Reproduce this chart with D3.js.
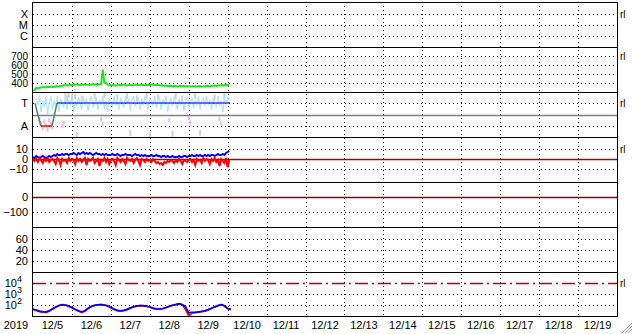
<!DOCTYPE html>
<html>
<head>
<meta charset="utf-8">
<script src="https://cdn.jsdelivr.net/npm/d3@7"></script>
<style>
body { margin: 0; background: #fff; }
text { font-family: "Liberation Sans", Arial, sans-serif; font-size: 11px; fill: #000; }
</style>
</head>
<body>
<svg width="633" height="334"></svg>
<script>
// ---- data ----
var startDate = new Date(2019, 11, 5);
var endDate = new Date(2019, 11, 20);
var yearLabel = "2019";
var dayLabels = ["12/5","12/6","12/7","12/8","12/9","12/10","12/11","12/12","12/13","12/14","12/15","12/16","12/17","12/18","12/19"];

var statusLabels = ["X", "M", "C"];

var p2Ticks = [400, 500, 600, 700];
// hourly from 12/5 00:00
var greenHourly = [315,320,345,340,348,350,352,355,350,358,355,360,357,362,358,365,360,368,370,375,372,378,375,380,
  378,382,380,385,380,378,383,380,386,382,380,378,384,388,382,385,380,387,390,550,405,398,385,378,
  372,375,378,370,376,380,374,378,382,376,372,378,380,375,378,384,380,376,378,382,376,374,378,380,
  378,382,380,376,380,378,375,372,374,370,372,368,370,366,364,368,366,362,365,368,364,366,362,365,
  364,360,362,366,362,360,364,366,362,360,364,368,366,362,366,370,372,368,374,370,376,372,378,374,380,376];

var modeTicks = [1, 0];
var modeLabels = ["T", "A"];
var modeMid = 0.5;
// [hour, value]
var modeGreenA = [[1.2, 1], [4.8, 0]];
var modeRed = [[4.8, 0], [11.7, 0]];
var modeGreenB = [[11.7, 0], [14.8, 1]];
var modeBlue = [[14.8, 1], [121.5, 1]];
// hourly from 12/5 02:00
var cyanHourly = [1.2,0.9,1.3,0.6,1.1,0.8,1.25,0.5,1.0,1.3,0.7,1.1,
  0.9,1.3,0.6,1.2,1.0,0.8,1.3,0.7,1.15,0.95,1.3,0.6,
  1.1,0.85,1.25,1.0,0.7,1.3,0.9,1.2,0.65,1.1,1.3,0.8,
  1.0,1.25,0.7,1.15,0.9,1.3,0.75,1.1,0.6,1.2,1.0,0.85,
  1.3,0.9,1.15,0.7,1.25,1.0,0.8,1.3,0.95,1.2,0.65,1.1,
  1.3,0.85,1.05,1.25,0.7,1.2,0.9,1.3,1.0,0.75,1.2,1.1,
  0.9,1.3,0.8,1.1,1.25,0.7,1.15,0.95,1.3,0.6,1.05,1.2,
  0.85,1.3,1.0,0.7,1.2,0.9,1.25,0.65,1.1,1.3,0.8,1.0,
  1.25,0.75,1.15,0.9,1.3,0.7,1.1,1.2,0.85,1.3,0.95,1.15,
  0.7,1.25,1.0,0.8,1.3,0.9,1.1,0.6,1.2,1.0,1.25,1.1];
var grayPoints = [[20,1.3],[21,1.2],[22,1.35],[24,1.25],[26,1.3],[27,-0.4],[30,1.2],[38,1.3],[44,1.35],[52,1.25],
  [58,1.3],[60,-0.3],[64,1.2],[70,1.3],[72,-0.4],[77,1.25],[86,-0.35],[88,1.3],[92,1.2],[100,1.3],[103,-0.3],[112,1.25],[118,1.3]];
var pinkPoints = [[4,0.3],[5,0.1],[6,-0.1],[7,0.2],[8,0.05],[9,-0.15],[10,0.25],[11,0.1],[12,-0.05],
  [18,0.0],[19,0.15],[42,0.3],[43,0.1],[84,0.25],[96,0.35],[97,0.15],[115,0.3],[116,0.1]];

var p4Ticks = [10, 0, -10];
var blueHourly4 = [2,1,3,2,1,2,3,2,1,2,3,2, 3,4,3,5,4,4,5,4,5,5,4,5,
  5,6,5,4,6,5,6,7,5,6,5,6, 5,4,5,6,5,5,4,5,4,5,4,4,
  4,5,4,4,5,4,3,4,4,5,4,4, 4,3,4,5,4,4,3,4,3,4,3,3,
  3,4,3,3,4,3,3,2,3,3,2,3, 2,2,3,2,2,2,3,2,2,3,3,2,
  3,3,4,3,3,4,3,4,3,3,4,3, 4,3,4,4,3,4,5,4,4,5,4,6, 7,8];
var redHourly4 = [1,-2,0,-3,1,-1,-4,0,-2,1,-3,-1, 0,-2,-5,1,-1,-6,0,-2,-1,-4,1,-2,
  0,-1,-5,1,-2,0,-3,-1,1,-6,0,-2, -1,1,-4,-2,0,-7,-1,-2,1,-3,0,-5,
  -1,0,-2,-6,1,-1,-3,0,-2,-5,1,-1, -2,0,-4,-1,1,-2,-6,0,-1,-3,0,-2,
  -1,-3,0,-2,-4,-3,-5,-4,-6,-3,-4,-2, -3,-1,-2,-4,-1,-3,0,-2,-5,-1,-2,-3,
  -1,0,-3,-1,-6,0,-2,-1,-4,1,-2,0, -1,-5,0,-2,1,-3,-1,-7,0,-2,-4,1, -8,-1];

var p5Ticks = [0, -100];
var p6Ticks = [60, 40, 20];
var p7Ticks = [1e4, 1e3, 1e2];
var p7Limit = 1e4;
// every 2 hours from 12/5 00:00
var blue7 = [43,35,28,25,24,30,45,65,90,107,100,80,60,42,30,24,30,50,75,95,105,108,100,85,
  60,42,33,30,33,40,55,70,82,88,86,80,65,52,44,43,48,60,78,95,110,130,112,70,
  19,22,22,24,26,30,38,50,68,88,110,85,48,40];
var red7 = [40,32,25,22,21,27,42,62,88,105,98,78,57,38,27,21,27,47,72,92,102,106,98,82,
  57,40,31,28,31,38,52,68,80,86,84,78,62,50,42,41,46,58,76,93,108,126,105,40,
  10,18,20,22,25,28,36,48,66,86,105,80,45,38];

// ---- layout ----
var svg = d3.select("svg");
var left = 33, right = 617;
var tops = [2, 47, 92, 137, 182, 227, 272];
var bottom = 316;
var cx = function(v) { return Math.round(v) + 0.5; };

var x = d3.scaleTime().domain([startDate, endDate]).range([left, right]);
function hourDate(h) { return new Date(+startDate + h * 3600e3); }

var y1 = d3.scalePoint().domain(statusLabels).range([14, 36]);
var y2 = d3.scaleLinear().domain([300, 800]).range([92, 47]);
var y3 = d3.scaleLinear().domain([-0.48, 1.48]).range([137, 92]);
var y4 = d3.scaleLinear().domain([-23, 22]).range([182, 137]);
var y5 = d3.scaleLinear().domain([-200, 100]).range([227, 182]);
var y6 = d3.scaleLinear().domain([0, 82]).range([272, 227]);
var y7 = d3.scaleLog().domain([10, 1e5]).range([316, 272]);

var gGrid = svg.append("g");
var gData = svg.append("g");
var gFrame = svg.append("g");

function hDotted(yy) {
  gGrid.append("line")
    .attr("x1", left).attr("x2", right)
    .attr("y1", cx(yy)).attr("y2", cx(yy))
    .attr("stroke", "#000").attr("stroke-dasharray", "1,3");
}
function hSolid(yy, color, dash) {
  gGrid.append("line")
    .attr("x1", left).attr("x2", right)
    .attr("y1", cx(yy)).attr("y2", cx(yy))
    .attr("stroke", color).attr("stroke-width", 1.3)
    .attr("stroke-dasharray", dash || null);
}

// vertical day lines
var midnights = d3.timeDay.range(d3.timeDay.offset(startDate, 1), endDate);
gGrid.selectAll("line.v")
  .data(midnights)
  .enter().append("line")
  .attr("class", "v")
  .attr("x1", function(d) { return cx(x(d)); })
  .attr("x2", function(d) { return cx(x(d)); })
  .attr("y1", tops[0]).attr("y2", bottom)
  .attr("stroke", "#000").attr("stroke-dasharray", "1,3");

// horizontal grid lines
statusLabels.forEach(function(s) { hDotted(y1(s)); });
p2Ticks.forEach(function(v) { hDotted(y2(v)); });
modeTicks.forEach(function(v) { hDotted(y3(v)); });
hSolid(y3(modeMid), "#808080");
p4Ticks.forEach(function(v) { if (v !== 0) hDotted(y4(v)); });
p5Ticks.forEach(function(v) { if (v !== 0) hDotted(y5(v)); });
p6Ticks.forEach(function(v) { hDotted(y6(v)); });
p7Ticks.forEach(function(v) { if (v !== p7Limit) hDotted(y7(v)); });
hSolid(y7(p7Limit), "#c00000", "13,4,2,4");

// ---- data marks ----
function drawLine(data, xf, yf, color, w) {
  gData.append("path")
    .datum(data)
    .attr("fill", "none")
    .attr("stroke", color)
    .attr("stroke-width", w)
    .attr("d", d3.line().x(xf).y(yf));
}
var hx = function(d, i) { return x(hourDate(i)); };

// panel 2
drawLine(greenHourly, hx, function(d) { return y2(d); }, "#1ee61e", 2);

// panel 3
gData.selectAll("rect.gray").data(grayPoints).enter().append("rect")
  .attr("x", function(d) { return x(hourDate(d[0])) - 1; })
  .attr("y", function(d) { return y3(d[1]) - 3; })
  .attr("width", 2).attr("height", 6).attr("fill", "#d2d2d2");
drawLine(cyanHourly, function(d, i) { return x(hourDate(i + 2)); }, function(d) { return y3(d); }, "#b4e6f6", 1.3);
gData.selectAll("rect.pink").data(pinkPoints).enter().append("rect")
  .attr("x", function(d) { return x(hourDate(d[0])) - 1; })
  .attr("y", function(d) { return y3(d[1]) - 2; })
  .attr("width", 2).attr("height", 4).attr("fill", "#f4b4f0");
var sx = function(d) { return x(hourDate(d[0])); };
var sy = function(d) { return y3(d[1]); };
drawLine(modeGreenA, sx, sy, "#508a50", 1.5);
drawLine(modeRed, sx, sy, "#ff0000", 1.5);
drawLine(modeGreenB, sx, sy, "#508a50", 1.5);
drawLine(modeBlue, sx, sy, "#3c3cff", 1.5);

// panel 4
hSolid(y4(0), "#b00000");
drawLine(blueHourly4, hx, function(d) { return y4(d); }, "#0000ff", 2);
drawLine(redHourly4, hx, function(d) { return y4(d); }, "#ff0000", 2);

// panel 5
hSolid(y5(0), "#a00000");

// panel 7
var hx2 = function(d, i) { return x(hourDate(i * 2)); };
drawLine(red7, hx2, function(d) { return y7(d); }, "#ff0000", 1.7);
drawLine(blue7, hx2, function(d) { return y7(d); }, "#0000ff", 1.7);

// ---- frame ----
tops.slice(1).forEach(function(t) {
  gFrame.append("line").attr("x1", left).attr("x2", right + 1)
    .attr("y1", cx(t)).attr("y2", cx(t)).attr("stroke", "#000");
});
gFrame.append("rect")
  .attr("x", left - 0.5).attr("y", tops[0] + 0.5)
  .attr("width", right - left + 1).attr("height", bottom - tops[0])
  .attr("fill", "none").attr("stroke", "#000");

// ---- axes ----
function leftAxis(scale, ticks, fmt) {
  var ax = d3.axisLeft(scale).tickValues(ticks).tickSize(0).tickPadding(5);
  if (fmt) ax.tickFormat(fmt);
  var g = gFrame.append("g").attr("transform", "translate(" + left + ",0)").call(ax);
  g.select(".domain").remove();
  g.selectAll("text").attr("font-family", null).attr("font-size", null);
  return g;
}
leftAxis(y1, statusLabels);
leftAxis(y2, p2Ticks).selectAll("text").style("font-size", "10px").attr("dy", "0.34em");
leftAxis(y3, modeTicks, function(d, i) { return modeLabels[i]; });
leftAxis(y4, p4Ticks, d3.format("d"));
leftAxis(y5, p5Ticks, d3.format("d"));
leftAxis(y6, p6Ticks, d3.format("d"));
var a7 = leftAxis(y7, p7Ticks, function() { return ""; });
a7.selectAll(".tick text").each(function(d) {
  var t = d3.select(this);
  t.append("tspan").text("10");
  t.append("tspan").attr("dy", -5).attr("font-size", "9px").text(Math.round(Math.log10(d)));
}).attr("dx", -6);

// right side labels
var rlY = [y1("X"), y2(700), y3(1), y4(10), y7(1e4)];
gFrame.selectAll("text.rl").data(rlY).enter().append("text")
  .attr("class", "rl")
  .attr("x", right + 3).attr("y", function(d) { return d + 4; })
  .style("font-size", "10px")
  .text("rl");

// x labels
gFrame.append("text").attr("x", 16).attr("y", 329).attr("text-anchor", "middle").text(yearLabel);
gFrame.selectAll("text.day").data(dayLabels).enter().append("text")
  .attr("class", "day")
  .attr("x", function(d, i) { return x(d3.timeHour.offset(d3.timeDay.offset(startDate, i), 12)); })
  .attr("y", 329)
  .attr("text-anchor", "middle")
  .text(function(d) { return d; });

// resize grip
[4, 7, 10].forEach(function(k) {
  gFrame.append("line")
    .attr("x1", 632 - k).attr("y1", 333).attr("x2", 632).attr("y2", 333 - k)
    .attr("stroke", "#999");
});
</script>
</body>
</html>
